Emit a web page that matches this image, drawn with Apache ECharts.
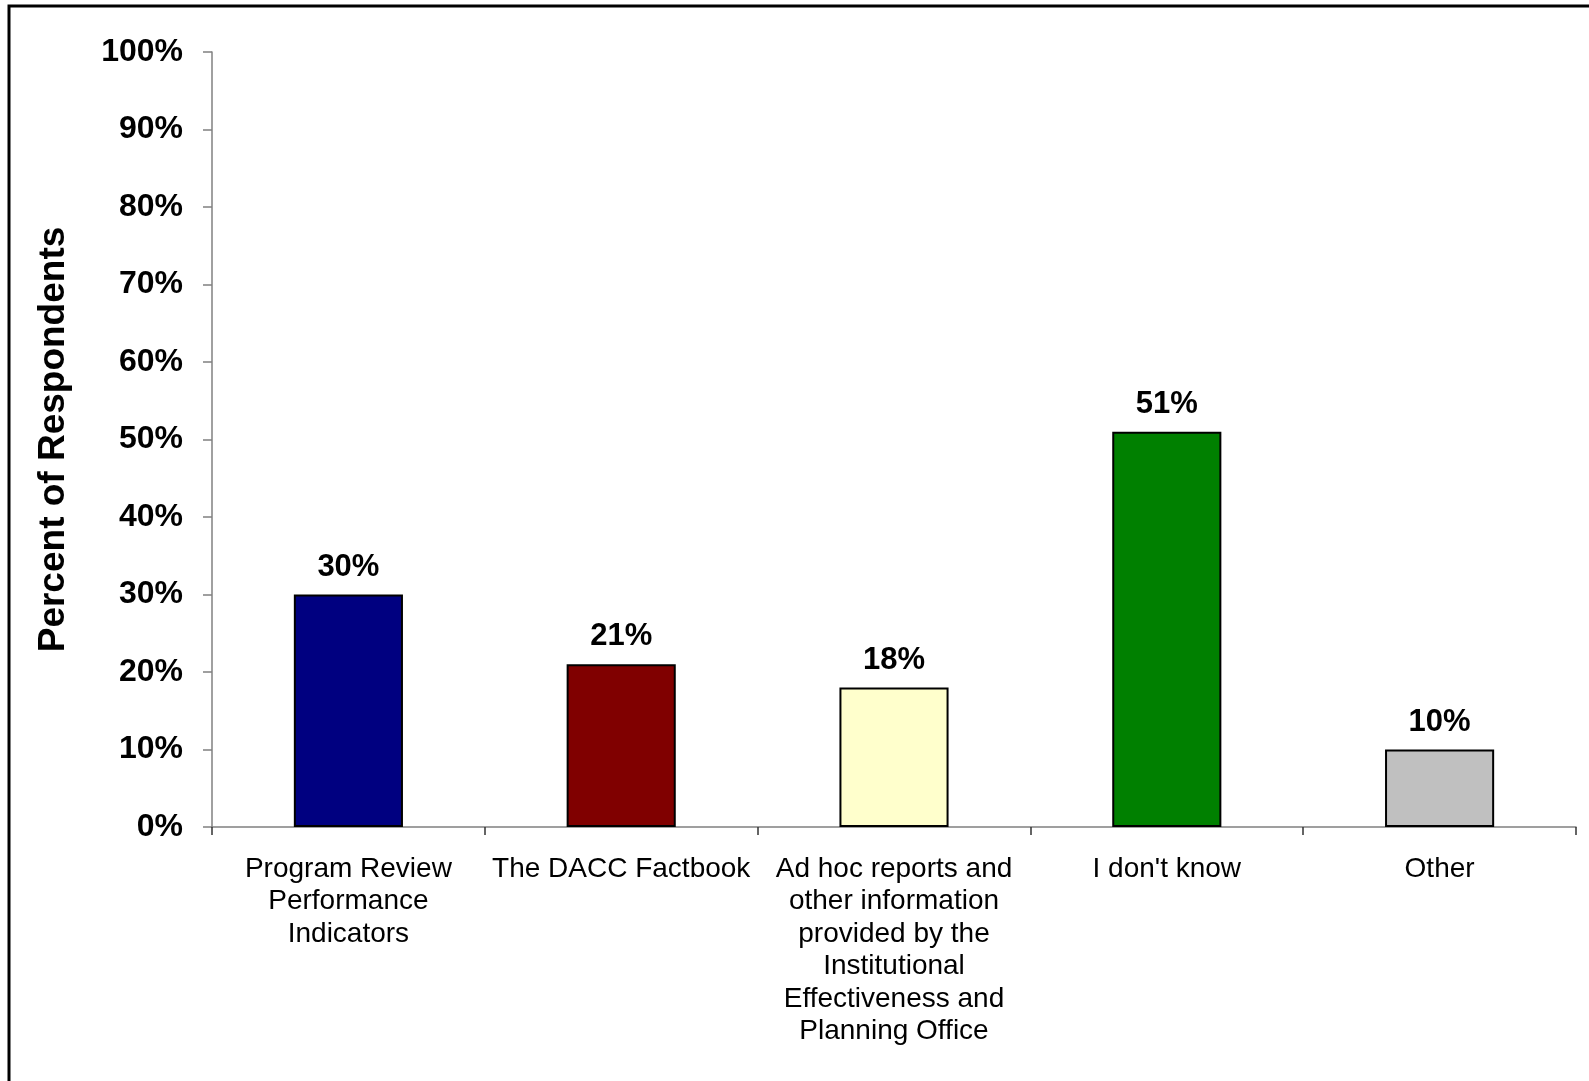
<!DOCTYPE html>
<html><head><meta charset="utf-8">
<style>html,body{margin:0;padding:0;background:#fff}#c{width:1589px;height:1081px}</style>
<script src="https://cdn.jsdelivr.net/npm/echarts@6/dist/echarts.min.js"></script>
</head><body><div id="c"></div>
<script>
const categories = ['Program Review\nPerformance\nIndicators', 'The DACC Factbook', 'Ad hoc reports and\nother information\nprovided by the\nInstitutional\nEffectiveness and\nPlanning Office', "I don't know", 'Other'];
const values = [30, 21, 18, 51, 10];
const colors = ['#000080', '#800000', '#FFFFCC', '#008000', '#C0C0C0'];
const yAxisTitle = 'Percent of Respondents';

const chart = echarts.init(document.getElementById('c'), null, {renderer: 'canvas'});
const FONT = '"Liberation Sans", Arial, sans-serif';
chart.setOption({
  animation: false,
  backgroundColor: '#fff',
  graphic: [{type: 'rect', shape: {x: 9, y: 6, width: 1700, height: 1200}, style: {fill: 'none', stroke: '#000', lineWidth: 3}, silent: true}],
  grid: {left: 212, right: 13, top: 52, bottom: 254, containLabel: false},
  xAxis: {
    type: 'category', data: categories,
    axisLine: {lineStyle: {color: '#808080', width: 1.5}},
    axisTick: {show: true, length: 8, inside: false, lineStyle: {color: '#333', width: 1.5}},
    axisLabel: {interval: 0, color: '#000', fontFamily: FONT, fontSize: 28, lineHeight: 32.5, margin: 26}
  },
  yAxis: {
    type: 'value', min: 0, max: 100, interval: 10,
    name: yAxisTitle, nameLocation: 'middle', nameGap: 140, nameRotate: 90,
    nameTextStyle: {color: '#000', fontFamily: FONT, fontSize: 37, fontWeight: 'bold'},
    axisLine: {show: true, lineStyle: {color: '#808080', width: 1.5}},
    axisTick: {show: true, length: 9, lineStyle: {color: '#808080', width: 1.5}},
    splitLine: {show: false},
    axisLabel: {formatter: '{value}%', color: '#000', fontFamily: FONT, fontSize: 32, fontWeight: 'bold', margin: 29}
  },
  series: [{
    type: 'bar', barWidth: '40%',
    data: values.map((v, i) => ({value: v, itemStyle: {color: colors[i]}})),
    itemStyle: {borderColor: '#000', borderWidth: 2},
    label: {show: true, position: 'top', distance: 12, formatter: '{c}%', color: '#000', fontFamily: FONT, fontSize: 31, fontWeight: 'bold'}
  }]
});
</script></body></html>
